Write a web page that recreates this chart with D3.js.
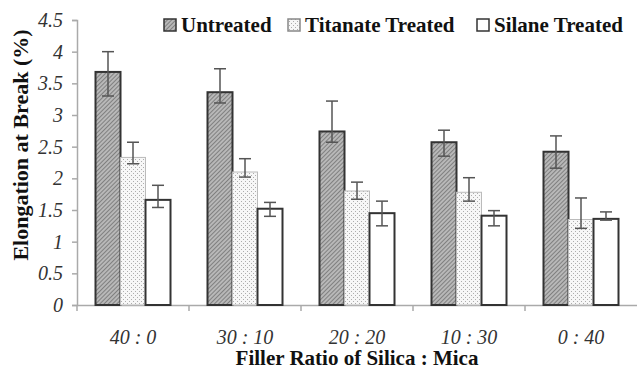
<!DOCTYPE html>
<html>
<head>
    <script src="https://cdn.jsdelivr.net/npm/d3@7"></script>
</head>
<body style="margin:0">
<svg id="chart" width="637" height="370"></svg>
<script>
    // data
    var categories = ["40 : 0", "30 : 10", "20 : 20", "10 : 30", "0 : 40"];
    var series = ["Untreated", "Titanate Treated", "Silane Treated"];
    var untreated = [3.68, 3.36, 2.74, 2.57, 2.42];
    var untreatedHi = [4.00, 3.73, 3.22, 2.76, 2.67];
    var untreatedLo = [3.30, 3.19, 2.57, 2.35, 2.16];
    var titanate = [2.33, 2.10, 1.80, 1.78, 1.35];
    var titanateHi = [2.57, 2.31, 1.94, 2.01, 1.69];
    var titanateLo = [2.23, 2.02, 1.67, 1.64, 1.21];
    var silane = [1.66, 1.52, 1.45, 1.41, 1.36];
    var silaneHi = [1.89, 1.62, 1.64, 1.49, 1.47];
    var silaneLo = [1.54, 1.40, 1.25, 1.25, 1.34];
    var yTicks = [0, 0.5, 1, 1.5, 2, 2.5, 3, 3.5, 4, 4.5];

    var values = [untreated, titanate, silane];
    var his = [untreatedHi, titanateHi, silaneHi];
    var los = [untreatedLo, titanateLo, silaneLo];

    var mLeft = 77, mRight = 637, mTop = 20, mBottom = 305;

    var svg = d3.select("#chart");

    var defs = svg.append("defs");
    var hatch = defs.append("pattern")
        .attr("id", "hatch")
        .attr("patternUnits", "userSpaceOnUse")
        .attr("width", 3).attr("height", 3)
        .attr("patternTransform", "rotate(45)");
    hatch.append("rect").attr("width", 3).attr("height", 3).attr("fill", "#b8b8b8");
    hatch.append("line").attr("x1", 0).attr("y1", 0).attr("x2", 0).attr("y2", 3)
        .attr("stroke", "#5a5a5a").attr("stroke-width", 1.2);

    var dots = defs.append("pattern")
        .attr("id", "dots")
        .attr("patternUnits", "userSpaceOnUse")
        .attr("width", 4).attr("height", 4);
    dots.append("rect").attr("width", 4).attr("height", 4).attr("fill", "#f7f7f7");
    dots.append("rect").attr("x", 1).attr("y", 1).attr("width", 1).attr("height", 1).attr("fill", "#adadad");
    dots.append("rect").attr("x", 3).attr("y", 3).attr("width", 1).attr("height", 1).attr("fill", "#adadad");

    var fills = ["url(#hatch)", "url(#dots)", "#fff"];
    var strokes = ["#333", "#bbb", "#333"];
    var strokeW = [2, 1, 2];

    var x0 = d3.scaleBand().domain(categories).range([mLeft, mRight]);
    var x1 = d3.scaleBand().domain(series).range([0, x0.bandwidth()]).paddingOuter(0.74);
    var y = d3.scaleLinear().domain([0, 4.5]).range([mBottom, mTop]);

    function serifText(sel) {
        sel.attr("font-family", "Liberation Serif")
            .style("font-family", "'Liberation Serif'");
    }

    // axes
    var yAxis = svg.append("g")
        .attr("transform", "translate(" + mLeft + ",0)")
        .call(d3.axisLeft(y).tickValues(yTicks).tickSize(5).tickPadding(9)
            .tickFormat(function (d) { return d; }));
    yAxis.select(".domain").attr("stroke", "#aaa").attr("stroke-width", 1.5);
    yAxis.selectAll(".tick line").attr("stroke", "#aaa").attr("stroke-width", 1.5);
    yAxis.call(serifText);
    yAxis.selectAll(".tick text")
        .attr("font-size", 20).attr("font-style", "italic").attr("fill", "#333")
        .call(serifText);

    var xAxis = svg.append("g")
        .attr("transform", "translate(0," + mBottom + ")")
        .call(d3.axisBottom(x0).tickSize(0).tickPadding(25));
    xAxis.select(".domain").attr("stroke", "#aaa").attr("stroke-width", 1.5);
    xAxis.call(serifText);
    xAxis.selectAll(".tick text")
        .attr("font-size", 20).attr("font-style", "italic").attr("fill", "#333")
        .call(serifText);
    // small tick marks at band boundaries
    svg.append("g").selectAll("line")
        .data(categories)
        .join("line")
        .attr("x1", function (d) { return x0(d); })
        .attr("x2", function (d) { return x0(d); })
        .attr("y1", mBottom).attr("y2", mBottom + 6)
        .attr("stroke", "#aaa").attr("stroke-width", 1.5);

    // bars
    series.forEach(function (s, si) {
        var g = svg.append("g");
        g.selectAll("rect")
            .data(categories)
            .join("rect")
            .attr("x", function (d) { return x0(d) + x1(s); })
            .attr("y", function (d, i) { return y(values[si][i]); })
            .attr("width", x1.bandwidth())
            .attr("height", function (d, i) { return mBottom - y(values[si][i]); })
            .attr("fill", fills[si])
            .attr("stroke", strokes[si])
            .attr("stroke-width", strokeW[si]);
    });

    // error bars
    series.forEach(function (s, si) {
        var g = svg.append("g").attr("stroke", "#555").attr("stroke-width", 1.5);
        categories.forEach(function (c, i) {
            var cx = x0(c) + x1(s) + x1.bandwidth() / 2;
            g.append("line").attr("x1", cx).attr("x2", cx)
                .attr("y1", y(his[si][i])).attr("y2", y(los[si][i]));
            g.append("line").attr("x1", cx - 6).attr("x2", cx + 6)
                .attr("y1", y(his[si][i])).attr("y2", y(his[si][i]));
            g.append("line").attr("x1", cx - 6).attr("x2", cx + 6)
                .attr("y1", y(los[si][i])).attr("y2", y(los[si][i]));
        });
    });

    // titles
    svg.append("text")
        .attr("x", (mLeft + mRight) / 2).attr("y", 365)
        .attr("text-anchor", "middle")
        .attr("font-size", 21).attr("font-weight", "bold").attr("fill", "#111")
        .call(serifText)
        .text("Filler Ratio of Silica : Mica");

    svg.append("text")
        .attr("transform", "translate(28,145) rotate(-90)")
        .attr("text-anchor", "middle")
        .attr("font-size", 22).attr("font-weight", "bold").attr("fill", "#111")
        .call(serifText)
        .text("Elongation at Break (%)");

    // legend
    var legendX = [164, 288, 477];
    var legend = svg.append("g");
    series.forEach(function (s, si) {
        legend.append("rect")
            .attr("x", legendX[si]).attr("y", 19)
            .attr("width", 12).attr("height", 12)
            .attr("fill", fills[si])
            .attr("stroke", si === 1 ? "#888" : "#333")
            .attr("stroke-width", 1.5);
        legend.append("text")
            .attr("x", legendX[si] + 17).attr("y", 32)
            .attr("font-size", 21).attr("font-weight", "bold").attr("fill", "#111")
            .call(serifText)
            .text(s);
    });
</script>
</body>
</html>
